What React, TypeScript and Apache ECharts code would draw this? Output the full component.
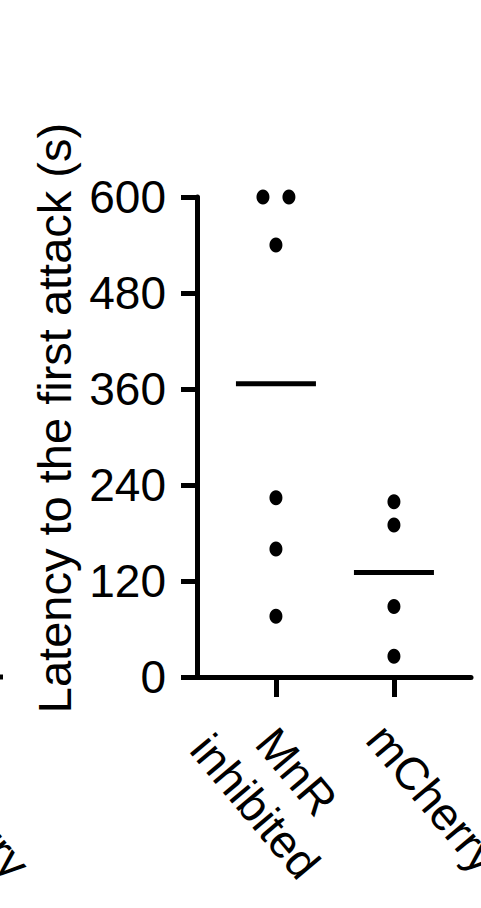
import { useEffect, useRef } from 'react';
import * as echarts from 'echarts';

// group labels and where they sit on the x axis
const groupNames = ['MnR\ninhibited', 'mCherry'];
const groupX = [1, 2];

// individual animals (s), with a small horizontal jitter for tied points
const mnrValues = [600, 600, 540, 224, 160, 76];
const mnrJitter = [-0.11, 0.11, 0, 0, 0, 0];
const mcherryValues = [219, 190, 88, 26];
const mcherryJitter = [0, 0, 0, 0];

const yTicks = [0, 120, 240, 360, 480, 600];
const yTitle = 'Latency to the first attack (s)';

const FONT = "'Liberation Sans', Arial, sans-serif";
const LINE_W = 5;

const mean = (arr: number[]) => arr.reduce((s, v) => s + v, 0) / arr.length;

export default function App() {
  const chartRef = useRef<HTMLDivElement>(null);

  useEffect(() => {
    document.body.style.margin = '0';
    if (!chartRef.current) return;
    const chart = echarts.init(chartRef.current, undefined, { renderer: 'svg' });

    const points = [
      ...mnrValues.map((v, i) => [groupX[0] + mnrJitter[i], v]),
      ...mcherryValues.map((v, i) => [groupX[1] + mcherryJitter[i], v]),
    ];
    const means = [
      [groupX[0], mean(mnrValues)],
      [groupX[1], mean(mcherryValues)],
    ];
    const labelOf = (v: number) => groupNames[groupX.indexOf(Math.round(v))] ?? '';

    const option: echarts.EChartsOption = {
      animation: false,
      textStyle: { fontFamily: FONT, color: '#000' },
      grid: { left: 197, right: 10, top: 197, bottom: 231, containLabel: false, outerBoundsMode: 'none' } as any,
      xAxis: [
        {
          type: 'value',
          position: 'bottom',
          min: 0.331,
          max: 2.653,
          axisLine: { show: true, onZero: false, lineStyle: { color: '#000', width: LINE_W } },
          axisTick: { show: true, customValues: groupX, length: 20, lineStyle: { color: '#000', width: LINE_W } },
          splitLine: { show: false },
          axisLabel: {
            customValues: [groupX[0]],
            formatter: labelOf,
            rotate: -50,
            align: 'center',
            verticalAlign: 'middle',
            margin: 112,
            fontSize: 46,
            lineHeight: 54,
            color: '#000',
            fontFamily: FONT,
          },
        },
        {
          type: 'value',
          position: 'bottom',
          min: 0.331,
          max: 2.653,
          axisLine: { show: false },
          axisTick: { show: false },
          splitLine: { show: false },
          axisLabel: {
            customValues: [groupX[1]],
            formatter: labelOf,
            rotate: -50,
            align: 'left',
            verticalAlign: 'top',
            margin: 39,
            fontSize: 46,
            color: '#000',
            fontFamily: FONT,
          },
        },
      ],
      yAxis: {
        type: 'value',
        min: yTicks[0],
        max: yTicks[yTicks.length - 1],
        interval: yTicks[1] - yTicks[0],
        axisLine: { show: true, lineStyle: { color: '#000', width: LINE_W } },
        axisTick: { show: true, length: 16, lineStyle: { color: '#000', width: LINE_W } },
        splitLine: { show: false },
        axisLabel: { fontSize: 46, margin: 31, color: '#000', fontFamily: FONT },
      },
      graphic: [
        {
          type: 'text',
          x: 54,
          y: 418,
          rotation: Math.PI / 2,
          style: {
            text: yTitle,
            font: `47px ${FONT}`,
            fill: '#000',
            align: 'center',
            verticalAlign: 'middle',
          },
        },
        // edge of the neighbouring panel that the crop cut through
        {
          type: 'line',
          shape: { x1: -12, y1: 677, x2: 3, y2: 677 },
          style: { stroke: '#000', lineWidth: LINE_W },
        },
        {
          type: 'text',
          x: -93,
          y: 737,
          rotation: (-50 * Math.PI) / 180,
          style: {
            text: 'mCherry',
            font: `46px ${FONT}`,
            fill: '#000',
            align: 'left',
            verticalAlign: 'middle',
          },
        },
      ],
      series: [
        {
          type: 'scatter',
          xAxisIndex: 0,
          data: points,
          symbol: 'circle',
          symbolSize: [13, 15],
          itemStyle: { color: '#000', opacity: 1 },
        },
        {
          type: 'custom',
          xAxisIndex: 0,
          data: means,
          renderItem: (_params: unknown, api: any) => {
            const p = api.coord([api.value(0), api.value(1)]);
            return {
              type: 'line',
              shape: { x1: p[0] - 40, y1: p[1], x2: p[0] + 40, y2: p[1] },
              style: { stroke: '#000', lineWidth: LINE_W },
            };
          },
        },
      ],
    };

    chart.setOption(option);
    return () => chart.dispose();
  }, []);

  return <div ref={chartRef} style={{ width: 481, height: 908 }} />;
}
